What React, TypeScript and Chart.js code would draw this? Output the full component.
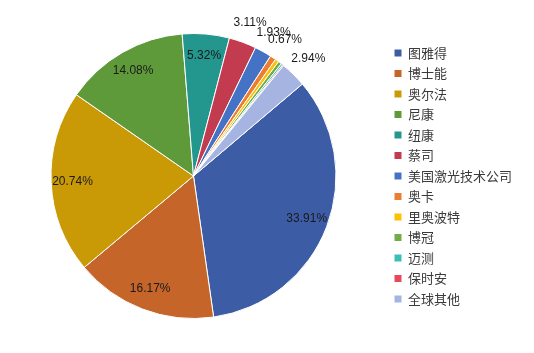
import React, { useEffect, useRef } from "react";
import { Chart, registerables } from "chart.js";

Chart.register(...registerables);

const categories = [
  "图雅得",
  "博士能",
  "奥尔法",
  "尼康",
  "纽康",
  "蔡司",
  "美国激光技术公司",
  "奥卡",
  "里奥波特",
  "博冠",
  "迈测",
  "保时安",
  "全球其他",
];

const shares = [33.91, 16.17, 20.74, 14.08, 5.32, 3.11, 1.93, 0.67, 0.42, 0.38, 0.2, 0.13, 2.94];

const colors = [
  "#3C5DA6",
  "#C5652A",
  "#C99A06",
  "#5F9A3A",
  "#23968E",
  "#C23B4E",
  "#4472C4",
  "#ED7D31",
  "#FFC000",
  "#70AD47",
  "#3BBFB3",
  "#E8495A",
  "#A5B4E0",
];

const labelPlugin = {
  id: "pctLabels",
  afterDatasetsDraw(chart: any) {
    const ctx = chart.ctx;
    const meta = chart.getDatasetMeta(0);
    const data = chart.data.datasets[0].data as number[];
    ctx.save();
    ctx.font = "12px 'Liberation Sans', Arial, sans-serif";
    ctx.fillStyle = "#1a1a1a";
    ctx.textAlign = "center";
    ctx.textBaseline = "middle";
    meta.data.forEach((arc: any, i: number) => {
      const v = data[i];
      if (v < 0.5) return;
      const { startAngle, endAngle, outerRadius, x, y } = arc.getProps(
        ["startAngle", "endAngle", "outerRadius", "x", "y"],
        true
      );
      const mid = (startAngle + endAngle) / 2;
      const r = v >= 5 ? outerRadius * 0.85 : outerRadius * 1.15;
      ctx.fillText(v.toFixed(2) + "%", x + Math.cos(mid) * r, y + Math.sin(mid) * r);
    });
    ctx.restore();
  },
};

export default function App() {
  const ref = useRef<HTMLCanvasElement | null>(null);
  useEffect(() => {
    if (!ref.current) return;
    const chart = new Chart(ref.current, {
      type: "pie",
      data: {
        labels: categories,
        datasets: [
          {
            data: shares,
            backgroundColor: colors,
            borderColor: "#ffffff",
            borderWidth: 1,
          },
        ],
      },
      options: {
        responsive: false,
        animation: false,
        devicePixelRatio: 1,
        rotation: 49.8,
        layout: { padding: { left: -3, right: 12, top: 33, bottom: 34 } },
        plugins: {
          tooltip: { enabled: false },
          legend: {
            position: "right",
            align: "center",
            labels: {
              boxWidth: 7,
              boxHeight: 7,
              padding: 7.5,
              color: "#3a3a3a",
              font: { family: "'Noto Sans CJK SC', sans-serif", size: 13 },
              generateLabels: (c: any) =>
                Chart.overrides.pie.plugins.legend.labels
                  .generateLabels(c)
                  .map((l: any) => ({ ...l, lineWidth: 0, strokeStyle: l.fillStyle })),
            },
          },
        },
      },
      plugins: [labelPlugin],
    });
    return () => chart.destroy();
  }, []);
  return (
    <div style={{ position: "fixed", left: 0, top: 0, width: 534, height: 353, background: "#fff" }}>
      <canvas ref={ref} width={534} height={353} style={{ display: "block" }} />
    </div>
  );
}
